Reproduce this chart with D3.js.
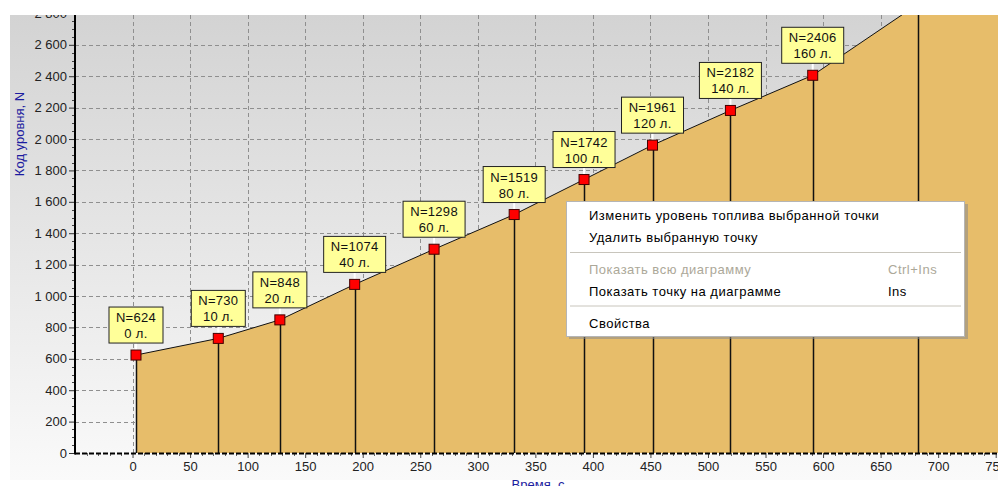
<!DOCTYPE html>
<html>
<head>
<meta charset="utf-8">
<script src="https://cdn.jsdelivr.net/npm/d3@7"></script>
<style>
  body { margin: 0; background: #fff; }
  svg { display: block; font-family: "Liberation Sans", Arial, sans-serif; }
</style>
</head>
<body>
<svg id="svg" width="998" height="486"></svg>
<script>
// chart data
var times  = [3, 74.5, 128, 193, 262, 331.6, 392.3, 451.8, 519.5, 591, 682.5, 775];
var levels = [624, 730, 848, 1074, 1298, 1519, 1742, 1961, 2182, 2406, 2860, 3090];
var liters = [0, 10, 20, 40, 60, 80, 100, 120, 140, 160, 180, 200];

var xTicks = d3.range(0, 751, 50);
var yTicks = d3.range(0, 2801, 200);

var menuItems = [
  {text: "Изменить уровень топлива выбранной точки", key: "", y: 215, off: false},
  {text: "Удалить выбранную точку", key: "", y: 237, off: false},
  {text: "Показать всю диаграмму", key: "Ctrl+Ins", y: 269, off: true},
  {text: "Показать точку на диаграмме", key: "Ins", y: 291, off: false},
  {text: "Свойства", key: "", y: 323, off: false}
];
var menuSeps = [252.5, 306];

var points = times.map(function(t, i) { return {t: t, n: levels[i], l: liters[i]}; });

var svg = d3.select("#svg");

var x = d3.scaleLinear().domain([-50, 752]).range([75, 998]);
var y = d3.scaleLinear().domain([0, 2790]).range([453, 15]);

// background panel with gradient
var defs = svg.append("defs");
var grad = defs.append("linearGradient").attr("id", "bg")
    .attr("x1", 0).attr("y1", 0).attr("x2", 0).attr("y2", 1);
grad.append("stop").attr("offset", "0%").attr("stop-color", "#d3d3d3");
grad.append("stop").attr("offset", "100%").attr("stop-color", "#fafafa");

defs.append("clipPath").attr("id", "panel")
  .append("rect").attr("x", 10).attr("y", 15).attr("width", 988).attr("height", 480);
defs.append("clipPath").attr("id", "plot")
  .append("rect").attr("x", 75).attr("y", 15).attr("width", 923).attr("height", 438);

var root = svg.append("g").attr("clip-path", "url(#panel)");

root.append("rect")
    .attr("x", 10).attr("y", 15).attr("width", 988).attr("height", 465)
    .attr("fill", "url(#bg)");

// grid
var grid = root.append("g").attr("clip-path", "url(#plot)")
    .attr("stroke", "#8f8f8f").attr("stroke-dasharray", "4,3");
grid.selectAll(".gx").data(xTicks).enter().append("line")
    .attr("x1", function(d) { return Math.round(x(d)) + 0.5; })
    .attr("x2", function(d) { return Math.round(x(d)) + 0.5; })
    .attr("y1", 15).attr("y2", 453);
grid.selectAll(".gy").data(yTicks).enter().append("line")
    .attr("x1", 75).attr("x2", 998)
    .attr("y1", function(d) { return Math.round(y(d)) + 0.5; })
    .attr("y2", function(d) { return Math.round(y(d)) + 0.5; });

// area + line
var plot = root.append("g").attr("clip-path", "url(#plot)");

var area = d3.area()
    .x(function(d) { return x(d.t); })
    .y0(y(0))
    .y1(function(d) { return y(d.n); });
var line = d3.line()
    .x(function(d) { return x(d.t); })
    .y(function(d) { return y(d.n); });

plot.append("path").datum(points)
    .attr("d", area)
    .attr("fill", "#e7bd6a");

plot.append("path").datum(points)
    .attr("d", line)
    .attr("fill", "none")
    .attr("stroke", "#111")
    .attr("stroke-width", 1);

plot.selectAll(".drop").data(points).enter().append("line")
    .attr("x1", function(d) { return Math.round(x(d.t)) + 0.5; })
    .attr("x2", function(d) { return Math.round(x(d.t)) + 0.5; })
    .attr("y1", function(d) { return y(d.n); })
    .attr("y2", y(0))
    .attr("stroke", "#111")
    .attr("stroke-width", 1.5);

// axes
var yAxis = d3.axisLeft(y).tickValues(yTicks).tickSize(6)
    .tickFormat(function(d) { return d3.format(",")(d).replace(/,/g, " "); });
var gy = root.append("g").attr("transform", "translate(75,0)").call(yAxis);
gy.select(".domain").remove();
gy.selectAll("text").attr("font-size", "13px").attr("fill", "#222")
    .attr("font-family", "Liberation Sans, Arial, sans-serif").attr("x", -8);
gy.selectAll("line").attr("stroke", "#333");

var yMinor = d3.range(0, 2800, 50).filter(function(d) { return d % 200 !== 0; });
root.append("g").selectAll("line").data(yMinor).enter().append("line")
    .attr("x1", 72).attr("x2", 75)
    .attr("y1", function(d) { return Math.round(y(d)) + 0.5; })
    .attr("y2", function(d) { return Math.round(y(d)) + 0.5; })
    .attr("stroke", "#444");

var xAxis = d3.axisBottom(x).tickValues(xTicks).tickSize(5);
var gx = root.append("g").attr("transform", "translate(0,453)").call(xAxis);
gx.select(".domain").remove();
gx.selectAll("text").attr("font-size", "13px").attr("fill", "#222")
    .attr("font-family", "Liberation Sans, Arial, sans-serif").attr("y", 9);
gx.selectAll("line").attr("stroke", "#444");

var xMinor = d3.range(-50, 752, 10).filter(function(d) { return d % 50 !== 0; });
root.append("g").selectAll("line").data(xMinor).enter().append("line")
    .attr("x1", function(d) { return Math.round(x(d)) + 0.5; })
    .attr("x2", function(d) { return Math.round(x(d)) + 0.5; })
    .attr("y1", 453).attr("y2", 456)
    .attr("stroke", "#666");

root.append("line").attr("x1", 75).attr("x2", 998).attr("y1", 453.5).attr("y2", 453.5)
    .attr("stroke", "#000").attr("stroke-width", 2).attr("stroke-dasharray", "5,2");
root.append("line").attr("x1", 75).attr("x2", 75).attr("y1", 15).attr("y2", 454.5)
    .attr("stroke", "#000").attr("stroke-width", 2);

// axis titles
root.append("text")
    .attr("transform", "translate(24,134) rotate(-90)")
    .attr("text-anchor", "middle")
    .attr("font-size", "13px")
    .attr("fill", "#1c1ca0")
    .text("Код уровня, N");
root.append("text")
    .attr("x", 538).attr("y", 489)
    .attr("text-anchor", "middle")
    .attr("font-size", "13px")
    .attr("fill", "#1c1ca0")
    .text("Время, с");

// point markers and labels
var marks = root.append("g").attr("clip-path", "url(#plot)");
var pt = marks.selectAll(".pt").data(points).enter().append("g")
    .attr("transform", function(d) { return "translate(" + x(d.t) + "," + y(d.n) + ")"; });

pt.append("line")
    .attr("x1", 0).attr("x2", 0).attr("y1", -12).attr("y2", -5)
    .attr("stroke", "#fff").attr("stroke-width", 2);

pt.append("rect")
    .attr("x", -5).attr("y", -5).attr("width", 10).attr("height", 10)
    .attr("fill", "#f00").attr("stroke", "#400").attr("stroke-width", 1);

var box = pt.append("g").attr("transform", "translate(0,-48)");
box.append("rect").attr("class", "lbl")
    .attr("y", 0).attr("height", 36)
    .attr("fill", "#ffff99").attr("stroke", "#222");
box.append("text")
    .attr("class", "t1")
    .attr("y", 15).attr("text-anchor", "middle")
    .attr("font-size", "13px").attr("fill", "#111")
    .attr("letter-spacing", "0.3px")
    .text(function(d) { return "N=" + d.n; });
box.append("text")
    .attr("y", 31).attr("text-anchor", "middle")
    .attr("font-size", "13px").attr("fill", "#111")
    .attr("letter-spacing", "0.3px")
    .text(function(d) { return d.l + " л."; });
box.each(function() {
  var g = d3.select(this);
  var w = Math.round(g.select(".t1").node().getComputedTextLength()) + 14;
  g.select("rect").attr("x", -w / 2).attr("width", w);
});

// context menu
var menu = svg.append("g");
menu.append("rect")
    .attr("x", 569).attr("y", 204).attr("width", 399).attr("height", 135)
    .attr("fill", "#8a8a8a").attr("opacity", 0.55);
menu.append("rect")
    .attr("x", 566.5).attr("y", 201.5).attr("width", 398).attr("height", 135)
    .attr("fill", "#fff").attr("stroke", "#b5b5b5");

menu.selectAll(".sep").data(menuSeps).enter().append("line")
    .attr("x1", 570).attr("x2", 961)
    .attr("y1", function(d) { return d; }).attr("y2", function(d) { return d; })
    .attr("stroke", "#c8c5bc");

menu.selectAll(".item").data(menuItems).enter().append("text")
    .attr("x", 589)
    .attr("y", function(d) { return d.y + 4.5; })
    .attr("font-size", "13px")
    .attr("letter-spacing", "0.5px")
    .attr("fill", function(d) { return d.off ? "#aca899" : "#000"; })
    .text(function(d) { return d.text; });

menu.selectAll(".key").data(menuItems.filter(function(d) { return d.key; })).enter().append("text")
    .attr("x", 888)
    .attr("y", function(d) { return d.y + 4.5; })
    .attr("font-size", "13px")
    .attr("letter-spacing", "0.5px")
    .attr("fill", function(d) { return d.off ? "#aca899" : "#000"; })
    .text(function(d) { return d.key; });
</script>
</body>
</html>
